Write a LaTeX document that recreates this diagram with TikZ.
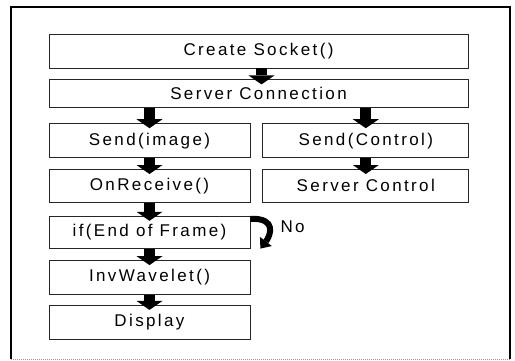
\documentclass[tikz,border=0pt]{standalone}
\usepackage{fontspec}
\newfontfamily\boxfont[LetterSpace=14]{Liberation Sans}
\usepackage{tikz}
\usetikzlibrary{arrows.meta,positioning}

\begin{document}
\begin{tikzpicture}[
      x=1pt, y=-1pt,
      font=\boxfont\fontsize{17}{20}\selectfont,
      node distance=11pt,
      box/.style={draw=black!85,line width=0.8pt,rectangle,inner sep=0pt,minimum height=33pt},
      wide/.style={box,minimum width=419pt},
      lcol/.style={box,minimum width=201pt},
      rcol/.style={box,minimum width=206pt},
      blk/.style={line width=11pt,-{Triangle[width=26pt,length=9pt,line width=0pt]}},
      back/.style={line width=6pt,-{Triangle[width=15pt,length=9pt,line width=0pt]}},
      frame/.style={line width=1.4pt}
    ]
    \useasboundingbox (0,0) rectangle (515,360);

    % Outer frame
    \draw[frame] (11,359) -- (11,7) -- (510,7) -- (510,359);
    \draw[black!40,densely dotted,line width=1pt] (11,359) -- (510,359);

    % Boxes
    \node (sock)    [wide,minimum height=34pt] at (258.5,51) {Create Socket()};
    \node (conn)    [wide,minimum height=28pt,below=11pt of sock] {Server Connection};
    \node (sendimg) [lcol,minimum height=34pt,below right=15pt and 0pt of conn.south west,anchor=north west] {Send(image)};
    \node (sendctl) [rcol,minimum height=34pt,right=12pt of sendimg] {Send(Control)};
    \node (recv)    [lcol,below=11pt of sendimg] {OnReceive()};
    \node (srvctl)  [rcol,below=11pt of sendctl] {Server Control};
    \node (eof)     [lcol,minimum height=32pt,below=13pt of recv] {if(End of Frame)};
    \node (inv)     [lcol,minimum height=34pt,below=11.5pt of eof] {InvWavelet()};
    \node (disp)    [lcol,minimum height=34pt,below=10pt of inv] {Display};
    \node (no)      [anchor=west] at (277,227) {No};

    % Arrows
    \draw[blk] ([xshift=3pt]sock.south) -- ([xshift=3pt,yshift=-5pt]conn.north);
    \draw[blk] (conn.south -| sendimg) -- ([yshift=-5pt]sendimg.north);
    \draw[blk] (conn.south -| sendctl) -- ([yshift=-5pt]sendctl.north);
    \draw[blk] (sendimg.south) -- ([yshift=-5pt]recv.north);
    \draw[blk] (sendctl.south) -- ([yshift=-5pt]srvctl.north);
    \draw[blk] (recv.south) -- ([yshift=-5pt]eof.north);
    \draw[blk] (eof.south) -- ([yshift=-5pt]inv.north);
    \draw[blk] (inv.south) -- ([yshift=-5pt]disp.north);

    % Loop back
    \draw[back] ([yshift=-3pt]eof.north east) .. controls +(27,-1) and +(10,-13) .. ([xshift=10pt]eof.south east);
  \end{tikzpicture}
\end{document}
